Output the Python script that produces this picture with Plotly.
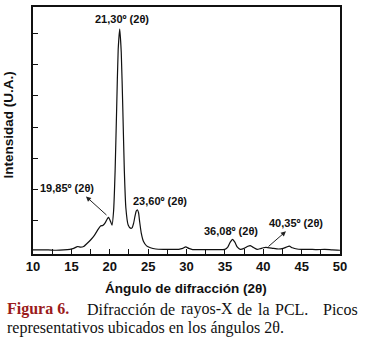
import plotly.graph_objects as go

# Diffraction angle (2θ) and intensity (arbitrary units, tick spacing = 1)
angle = [10, 11, 12, 13, 14, 14.8, 15.3, 15.8, 16.2, 16.6, 17.0, 17.5, 18.0, 18.5, 18.8,
         19.1, 19.4, 19.7, 19.85, 20.05, 20.3, 20.5, 20.7, 20.9, 21.1, 21.3, 21.5, 21.7,
         21.9, 22.1, 22.4, 22.7, 22.9, 23.1, 23.3, 23.45, 23.6, 23.75, 23.9, 24.1, 24.4,
         24.8, 25.3, 26, 27, 28, 29, 29.5, 29.9, 30.3, 30.8, 32, 33, 34, 35, 35.4, 35.7,
         36.0, 36.3, 36.6, 37.0, 37.5, 38.0, 38.3, 38.6, 39.2, 39.6, 40.0, 40.35, 40.8,
         41.3, 42.0, 42.6, 43.0, 43.4, 43.8, 44.4, 45, 46, 47, 48, 49, 50]
intensity = [0.05, 0.05, 0.05, 0.04, 0.05, 0.07, 0.10, 0.16, 0.14, 0.16, 0.25, 0.37, 0.52,
             0.72, 0.82, 0.84, 0.92, 1.06, 1.10, 1.00, 0.85, 1.30, 2.60, 4.60, 6.50, 7.15,
             6.40, 4.60, 2.60, 1.40, 0.85, 0.75, 0.76, 0.90, 1.15, 1.30, 1.34, 1.25, 0.95,
             0.60, 0.32, 0.18, 0.12, 0.08, 0.07, 0.07, 0.07, 0.10, 0.15, 0.10, 0.06, 0.06,
             0.06, 0.06, 0.07, 0.15, 0.30, 0.39, 0.30, 0.15, 0.07, 0.10, 0.17, 0.19, 0.15,
             0.07, 0.09, 0.12, 0.13, 0.12, 0.10, 0.08, 0.10, 0.14, 0.17, 0.12, 0.08, 0.07,
             0.07, 0.06, 0.07, 0.05, 0.04]

x_ticks = [10, 15, 20, 25, 30, 35, 40, 45, 50]
y_ticks = [1, 2, 3, 4, 5, 6, 7]

peak_labels = ["21,30º (2θ)", "19,85º (2θ)", "23,60º (2θ)", "36,08º (2θ)", "40,35º (2θ)"]
label_pos = [(21.6, 7.48, "center"), (10.65, 2.05, "left"), (26.55, 1.61, "center"),
             (35.8, 0.65, "center"), (44.27, 0.91, "center")]

fig = go.Figure()
fig.add_trace(go.Scatter(x=angle, y=intensity, mode="lines",
                         line=dict(color="#111111", width=1.2, shape="spline", smoothing=0.5),
                         hoverinfo="skip", showlegend=False))

lab_font = dict(family="Liberation Sans, Arial", size=11, color="#111111")
for txt, (lx, ly, anc) in zip(peak_labels, label_pos):
    fig.add_annotation(x=lx, y=ly, text=f"<b>{txt}</b>", showarrow=False,
                       xanchor=anc, yanchor="middle", font=lab_font)

# arrows
fig.add_annotation(x=16.9, y=1.77, ax=19.77, ay=1.13, axref="x", ayref="y", text="",
                   showarrow=True, arrowhead=2, arrowsize=1, arrowwidth=1, arrowcolor="#222")
fig.add_annotation(x=42.96, y=0.65, ax=40.49, ay=0.12, axref="x", ayref="y", text="",
                   showarrow=True, arrowhead=2, arrowsize=1, arrowwidth=1, arrowcolor="#222")

# axis titles
fig.add_annotation(xref="paper", yref="paper", x=0.498, y=-0.14, text="<b>Ángulo de difracción (2θ)</b>",
                   showarrow=False, xanchor="center", yanchor="middle",
                   font=dict(family="Liberation Sans, Arial", size=13.5, color="#111111"))
fig.add_annotation(xref="paper", yref="paper", x=-0.078, y=0.52, text="<b>Intensidad (U.A.)</b>",
                   showarrow=False, textangle=-90, xanchor="center", yanchor="middle",
                   font=dict(family="Liberation Sans, Arial", size=13.5, color="#111111"))

# caption
cap_font = dict(family="Liberation Serif, Times New Roman", size=16, color="#111111")
def px_x(p):
    return (p - 33) / 307.0
y1, y2 = -0.224, -0.300
fig.add_annotation(xref="paper", yref="paper", x=px_x(5), y=y1, text="<b>Figura 6.</b>",
                   showarrow=False, xanchor="left", yanchor="middle",
                   font=dict(family="Liberation Serif, Times New Roman", size=16, color="#9b1c1c"))
words = [("Difracción", 85), ("de", 158), ("rayos-X", 179), ("de", 235), ("la", 256), ("PCL.", 273)]
for w, p in words:
    fig.add_annotation(xref="paper", yref="paper", x=px_x(p), y=y1, text=w,
                       showarrow=False, xanchor="left", yanchor="middle", font=cap_font)
fig.add_annotation(xref="paper", yref="paper", x=px_x(360), y=y1, text="Picos",
                   showarrow=False, xanchor="right", yanchor="middle", font=cap_font)
fig.add_annotation(xref="paper", yref="paper", x=px_x(5), y=y2,
                   text="representativos ubicados en los ángulos 2θ.",
                   showarrow=False, xanchor="left", yanchor="middle", font=cap_font)

fig.update_xaxes(range=[10, 50], tickvals=x_ticks, ticktext=[f"<b>{v}</b>" for v in x_ticks],
                 ticks="inside", ticklen=5, tickwidth=1, tickcolor="#111",
                 minor=dict(dtick=2.5, tick0=10, ticks="inside", ticklen=5, tickwidth=1, tickcolor="#111"),
                 showline=True, linecolor="#111", linewidth=1.5, mirror=True,
                 showgrid=False, zeroline=False,
                 tickfont=dict(family="Liberation Sans, Arial", size=13, color="#111"))
fig.update_yaxes(range=[-0.08, 7.86], tickvals=y_ticks, showticklabels=False,
                 ticks="inside", ticklen=5, tickwidth=1, tickcolor="#111",
                 showline=True, linecolor="#111", linewidth=1.5, mirror=True,
                 showgrid=False, zeroline=False)

fig.update_layout(width=365, height=342, margin=dict(l=33, r=25, t=5, b=88),
                  paper_bgcolor="white", plot_bgcolor="white", showlegend=False)
fig.write_html("out.html", config={"displayModeBar": False},
               post_script="document.body.style.margin='0';")
